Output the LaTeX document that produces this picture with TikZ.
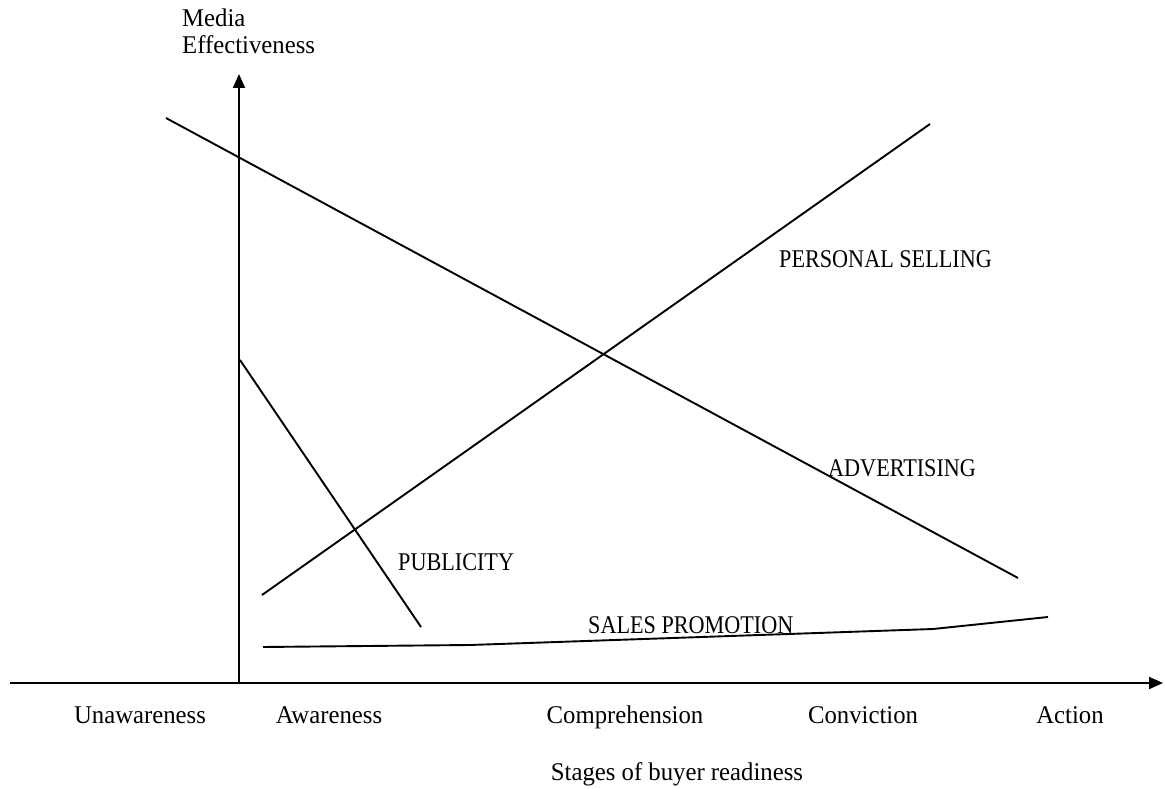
\documentclass[tikz,border=0pt]{standalone}
\usepackage{fontspec}
\setmainfont{Liberation Serif}[FakeStretch=0.87]
\newfontfamily\stagefont{Liberation Serif}[FakeStretch=0.97]
\usetikzlibrary{arrows.meta}
\begin{document}
\begin{tikzpicture}[
        x=1pt, y=-1pt,
        axis/.style={line width=2pt, -{Triangle[length=14pt, width=12pt]}},
        media_line/.style={line width=1.9pt},
        media_text/.style={font=\fontsize{25.5}{27}\selectfont, inner sep=0pt},
        stage_text/.style={font=\stagefont\fontsize{25.5}{27}\selectfont, inner sep=0pt}
    ]
        \useasboundingbox (0,0) rectangle (1165,789);

        % Axes
        \coordinate (origin) at (239,683);
        \coordinate (x_start) at (10,683);
        \coordinate (x_end) at (1163,683);
        \coordinate (y_end) at (239,74);
        \draw[axis] (x_start) -- (x_end);
        \draw[axis] (origin) -- (y_end);
        \node[stage_text, anchor=north west, align=left] (y_title) at (182,9) {Media\\Effectiveness};

        % Stages of buyer readiness
        \node[stage_text, anchor=base] (unawareness) at (140,723) {Unawareness};
        \node[stage_text, anchor=base] (awareness) at (329,723) {Awareness};
        \node[stage_text, anchor=base] (comprehension) at (625,723) {Comprehension};
        \node[stage_text, anchor=base] (conviction) at (863,723) {Conviction};
        \node[stage_text, anchor=base] (action) at (1070,723) {Action};
        \node[stage_text, anchor=base] (x_title) at (677,780) {Stages of buyer readiness};

        % Advertising
        \coordinate (adv_start) at (166,118);
        \coordinate (adv_end) at (1018,578);
        \draw[media_line] (adv_start) -- (adv_end);
        \node[media_text, anchor=base west] (adv_label) at (828,476) {ADVERTISING};

        % Personal selling
        \coordinate (ps_start) at (262,595);
        \coordinate (ps_end) at (930,124);
        \draw[media_line] (ps_start) -- (ps_end);
        \node[media_text, anchor=base west] (ps_label) at (779,267) {PERSONAL SELLING};

        % Publicity
        \coordinate (pub_start) at (240,360);
        \coordinate (pub_end) at (421,627);
        \draw[media_line] (pub_start) -- (pub_end);
        \node[media_text, anchor=base west] (pub_label) at (398,570) {PUBLICITY};

        % Sales promotion
        \coordinate (sp_start) at (263,647);
        \coordinate (sp_a) at (470,645);
        \coordinate (sp_b) at (933,629);
        \coordinate (sp_end) at (1048,617);
        \draw[media_line] (sp_start) -- (sp_a) -- (sp_b) -- (sp_end);
        \node[media_text, anchor=base west] (sp_label) at (588,633) {SALES PROMOTION};
    \end{tikzpicture}
\end{document}
